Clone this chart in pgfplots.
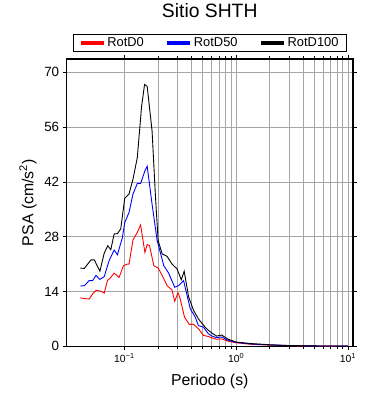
\documentclass[border=0pt]{standalone}
\usepackage{fontspec}
\setmainfont{Liberation Sans}
\usepackage{pgfplots}
\pgfplotsset{compat=1.18}
\begin{document}
\begin{tikzpicture}
\begin{axis}[
  name=ax,
  xmode=log,
  scale only axis,
  width=288bp, height=289bp,
  xmin=0.0304, xmax=11.1,
  ymin=0, ymax=73.4,
  ytick={0,14,28,42,56,70},
  xtick={0.1,1,10},
  xticklabels={10\textsuperscript{−1},10\textsuperscript{0},10\textsuperscript{1}},
  /pgf/number format/assume math mode=true,
  yticklabel style={font=\fontsize{13.5}{15}\selectfont},
  xticklabel style={font=\fontsize{10.5}{12}\selectfont},
  xlabel={Periodo (s)},
  ylabel={PSA (cm/s\textsuperscript{2})},
  xlabel style={font=\fontsize{16}{18}\selectfont, at={(axis description cs:0.5,-0.135)}, anchor=base},
  ylabel style={font=\fontsize{16}{18}\selectfont, at={(axis description cs:-0.135,0.5)}, anchor=center},
  xmajorgrids, xminorgrids, ymajorgrids,
  major grid style={gray!70, line width=0.5pt},
  minor grid style={gray!70, line width=0.5pt},
  tick align=outside,
  xtick pos=both, ytick pos=both,
  major tick length=4pt, minor tick length=3pt,
  tick style={black, line width=0.5pt},
  axis line style={line width=1.3pt},
  title={Sitio SHTH},
  title style={font=\fontsize{19.5}{21}\selectfont, at={(axis description cs:0.5,1.1246)}, anchor=base},
  legend columns=3,
  legend style={at={(0.5,1.024)}, anchor=south, draw=black, line width=1pt,
    font=\fontsize{13}{15}\selectfont, inner ysep=1.5pt, inner xsep=6pt,
    /tikz/every even column/.append style={column sep=20pt}},
  legend image code/.code={\draw[line width=3.5pt] (0bp,0bp) -- (23bp,0bp);},
]
\addplot[red, line width=0.9pt] coordinates {
(0.0404,12.4)(0.0438,12.2)(0.0485,12.1)(0.052,13.4)(0.0556,14.3)(0.0616,14.1)(0.066,13.6)(0.0706,16.8)(0.0756,17.6)(0.081,18.7)(0.0897,17.6)(0.098,20.6)(0.1063,21.0)(0.110,21.0)(0.1194,27.2)(0.1305,29.1)(0.1397,31.0)(0.1526,24.0)(0.160,26.0)(0.168,25.7)(0.1835,20.6)(0.2006,20.0)(0.218,18.1)(0.241,15.5)(0.267,14.4)(0.282,11.5)(0.302,13.7)(0.316,12.1)(0.345,7.5)(0.381,5.6)(0.416,5.6)(0.46,4.5)(0.51,2.8)(0.565,2.5)(0.6,2.2)(0.67,1.8)(0.74,1.9)(0.85,1.3)(1.0,0.9)(1.37,0.5)(2.0,0.3)(3.0,0.15)(5.0,0.08)(10,0.04)
};
\addplot[blue, line width=0.9pt] coordinates {
(0.0404,15.4)(0.0438,15.5)(0.0485,16.8)(0.052,16.8)(0.0556,18.1)(0.0604,17.1)(0.066,17.8)(0.073,21.9)(0.081,24.6)(0.0867,23.4)(0.096,27.8)(0.1007,31.6)(0.110,34.2)(0.1194,38.9)(0.1305,41.6)(0.1397,41.6)(0.1526,44.8)(0.160,46.0)(0.177,36.3)(0.1965,27.0)(0.2254,20.6)(0.249,18.7)(0.282,15.1)(0.306,15.5)(0.339,16.8)(0.355,14.3)(0.389,9.6)(0.430,7.5)(0.46,5.3)(0.51,4.9)(0.565,3.2)(0.6,2.7)(0.67,2.2)(0.74,2.4)(0.85,1.5)(1.0,1.0)(1.37,0.6)(2.0,0.35)(3.0,0.18)(5.0,0.1)(10,0.05)
};
\addplot[black, line width=0.9pt] coordinates {
(0.0404,20.0)(0.0438,19.9)(0.0503,22.1)(0.0538,22.1)(0.0604,19.2)(0.066,23.8)(0.071,25.7)(0.0756,24.7)(0.081,28.7)(0.0867,28.8)(0.0928,30.0)(0.1007,37.8)(0.110,38.9)(0.1194,42.7)(0.1305,48.2)(0.1426,61.3)(0.1516,66.9)(0.160,66.4)(0.177,55.0)(0.190,38.0)(0.2006,27.0)(0.218,23.6)(0.241,23.0)(0.267,21.0)(0.296,19.8)(0.323,17.0)(0.343,19.2)(0.376,12.6)(0.416,9.2)(0.46,7.0)(0.528,4.9)(0.565,4.1)(0.6,3.5)(0.67,2.6)(0.74,2.9)(0.85,1.8)(1.0,1.1)(1.37,0.7)(2.0,0.4)(3.0,0.2)(5.0,0.1)(10,0.05)
};
\legend{RotD0,RotD50,RotD100}
\end{axis}
\path ([shift={(-67bp,-54bp)}]ax.south west) rectangle ([shift={(35bp,57bp)}]ax.north east);
\end{tikzpicture}
\end{document}
